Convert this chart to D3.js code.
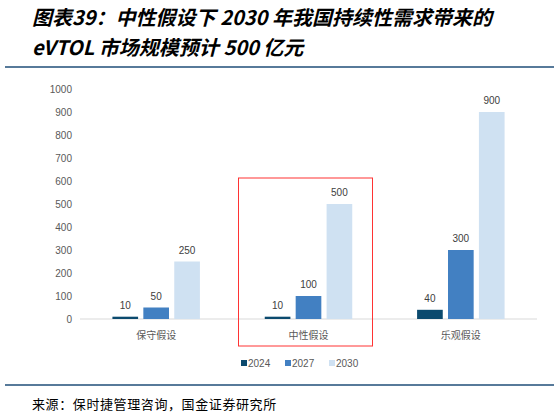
<!DOCTYPE html>
<html><head><meta charset="utf-8">
<script src="https://cdn.jsdelivr.net/npm/d3@7"></script>
<style>body{margin:0;background:#fff}</style>
</head><body><svg id="c" width="559" height="416"></svg>
<script>
var categories = ['保守假设', '中性假设', '乐观假设'];
var years = ['2024', '2027', '2030'];
var v2024 = [10, 10, 40];
var v2027 = [50, 100, 300];
var v2030 = [250, 500, 900];
var yTicks = [0, 100, 200, 300, 400, 500, 600, 700, 800, 900, 1000];
var colors = ['#0b4a6e', '#4280c2', '#cfe1f2'];

var svg = d3.select('#c');
var font = '"Noto Sans CJK SC", sans-serif';

// title
svg.append('text').attr('x', 32).attr('y', 25).attr('font-family', font)
  .attr('font-size', 20).attr('font-weight', 'bold').attr('font-style', 'italic')
  .text('图表39：中性假设下 2030 年我国持续性需求带来的');
svg.append('text').attr('x', 32).attr('y', 55).attr('font-family', font)
  .attr('font-size', 20).attr('font-weight', 'bold').attr('font-style', 'italic')
  .text('eVTOL 市场规模预计 500 亿元');
svg.append('line').attr('x1', 5).attr('x2', 554).attr('y1', 67).attr('y2', 67)
  .attr('stroke', '#1f4e79').attr('stroke-width', 1.5);
svg.append('line').attr('x1', 5).attr('x2', 554).attr('y1', 385).attr('y2', 385)
  .attr('stroke', '#1f4e79').attr('stroke-width', 1.5);
svg.append('text').attr('x', 32).attr('y', 409).attr('font-family', font)
  .attr('font-size', 13).attr('letter-spacing', 0.6).text('来源：保时捷管理咨询，国金证券研究所');

var y = d3.scaleLinear().domain([0, 1000]).range([319, 89]);
var x = d3.scaleBand().domain(categories).range([80, 537]);
var xi = d3.scaleBand().domain(years).range([-49, 49]).padding(0.17);

svg.append('line').attr('x1', 80).attr('x2', 537).attr('y1', y(0)).attr('y2', y(0))
  .attr('stroke', '#d9d9d9');
svg.selectAll('.yt').data(yTicks).enter().append('text')
  .attr('x', 72).attr('y', function (d) { return y(d) + 4; })
  .attr('text-anchor', 'end').attr('font-family', 'Liberation Sans, sans-serif')
  .attr('font-size', 10).attr('fill', '#595959').text(function (d) { return d; });

var series = [v2024, v2027, v2030];
categories.forEach(function (c, ci) {
  var cx = x(c) + x.bandwidth() / 2;
  series.forEach(function (s, si) {
    var bx = cx + xi(years[si]);
    svg.append('rect').attr('x', bx).attr('y', y(s[ci]))
      .attr('width', xi.bandwidth()).attr('height', y(0) - y(s[ci]))
      .attr('fill', colors[si]);
    svg.append('text').attr('x', bx + xi.bandwidth() / 2).attr('y', y(s[ci]) - 8)
      .attr('text-anchor', 'middle').attr('font-family', 'Liberation Sans, sans-serif')
      .attr('font-size', 10).attr('fill', '#404040').text(s[ci]);
  });
  svg.append('text').attr('x', cx).attr('y', 339).attr('text-anchor', 'middle')
    .attr('font-family', font).attr('font-size', 10).attr('fill', '#595959').text(c);
});

// highlight box around 中性假设
var mid = x(categories[1]) + x.bandwidth() / 2;
svg.append('rect').attr('x', mid - 70).attr('y', 178).attr('width', 134).attr('height', 168)
  .attr('fill', 'none').attr('stroke', '#ff3333').attr('stroke-width', 1);

// legend
var lg = svg.append('g').attr('transform', 'translate(241,364)');
years.forEach(function (yr, i) {
  var g = lg.append('g').attr('transform', 'translate(' + (i * 44) + ',0)');
  g.append('rect').attr('x', 0).attr('y', -4).attr('width', 6).attr('height', 6).attr('fill', colors[i]);
  g.append('text').attr('x', 7).attr('y', 2.5).attr('font-family', 'Liberation Sans, sans-serif')
    .attr('font-size', 10).attr('fill', '#595959').text(yr);
});
</script></body></html>
